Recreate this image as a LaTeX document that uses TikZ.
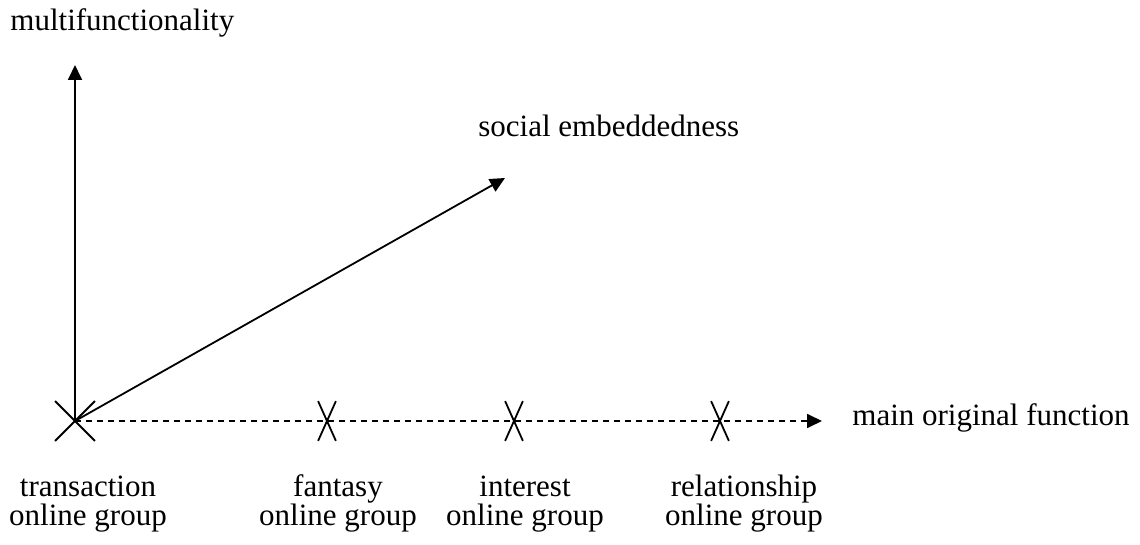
\documentclass[tikz,border=0pt]{standalone}
\usepackage{fontspec}
\setmainfont{Liberation Serif}
\usetikzlibrary{arrows.meta,shapes.misc}

\newcommand\tightlines{\setlength\lineskiplimit{-20pt}\setlength\lineskip{0pt}}
\tikzset{
  lbl/.style={font=\fontsize{15.5}{14.2}\selectfont, inner sep=0pt},
  grp/.style={lbl, align=center, anchor=base,
    font=\fontsize{15.5}{14.2}\selectfont\tightlines},
  xmark/.style={draw, cross out, line width=0.9pt, inner sep=0pt,
    minimum width=8pt, minimum height=19pt},
  axis/.style={line width=0.9pt, -{Triangle[length=7.5pt,width=7pt]}},
}

\begin{document}
\begin{tikzpicture}[x=0.5pt, y=-0.5pt]
    \useasboundingbox (0,0) rectangle (1140,545);
    % crosses on the axis
    \node[xmark, minimum width=19pt] (o) at (75, 421) {};
    \node[xmark] (f) at (327, 421) {};
    \node[xmark] (i) at (514, 421) {};
    \node[xmark] (r) at (720, 421) {};
    \coordinate (top) at (75, 65);
    \coordinate (soc) at (505, 178);
    \coordinate (end) at (822, 421);
    % texts
    \node[lbl, anchor=base west] (ml) at (10, 31) {multifunctionality};
    \node[lbl, anchor=base west] (sl) at (478, 137) {social embeddedness};
    \node[lbl, anchor=base west] (fl) at (852, 425) {main original function};
    \node[grp] (a) at (88, 525) {transaction\\online group};
    \node[grp] (b) at (338, 525) {fantasy\\online group};
    \node[grp] (c) at (525, 525) {interest\\online group};
    \node[grp] (d) at (744, 525) {relationship\\online group};
    % axes
    \draw[axis] (o.center) -- (top);
    \draw[axis] (o.center) -- (soc);
    \draw[axis, dash pattern=on 3pt off 2.5pt] (o.center) -- (end);
\end{tikzpicture}
\end{document}
